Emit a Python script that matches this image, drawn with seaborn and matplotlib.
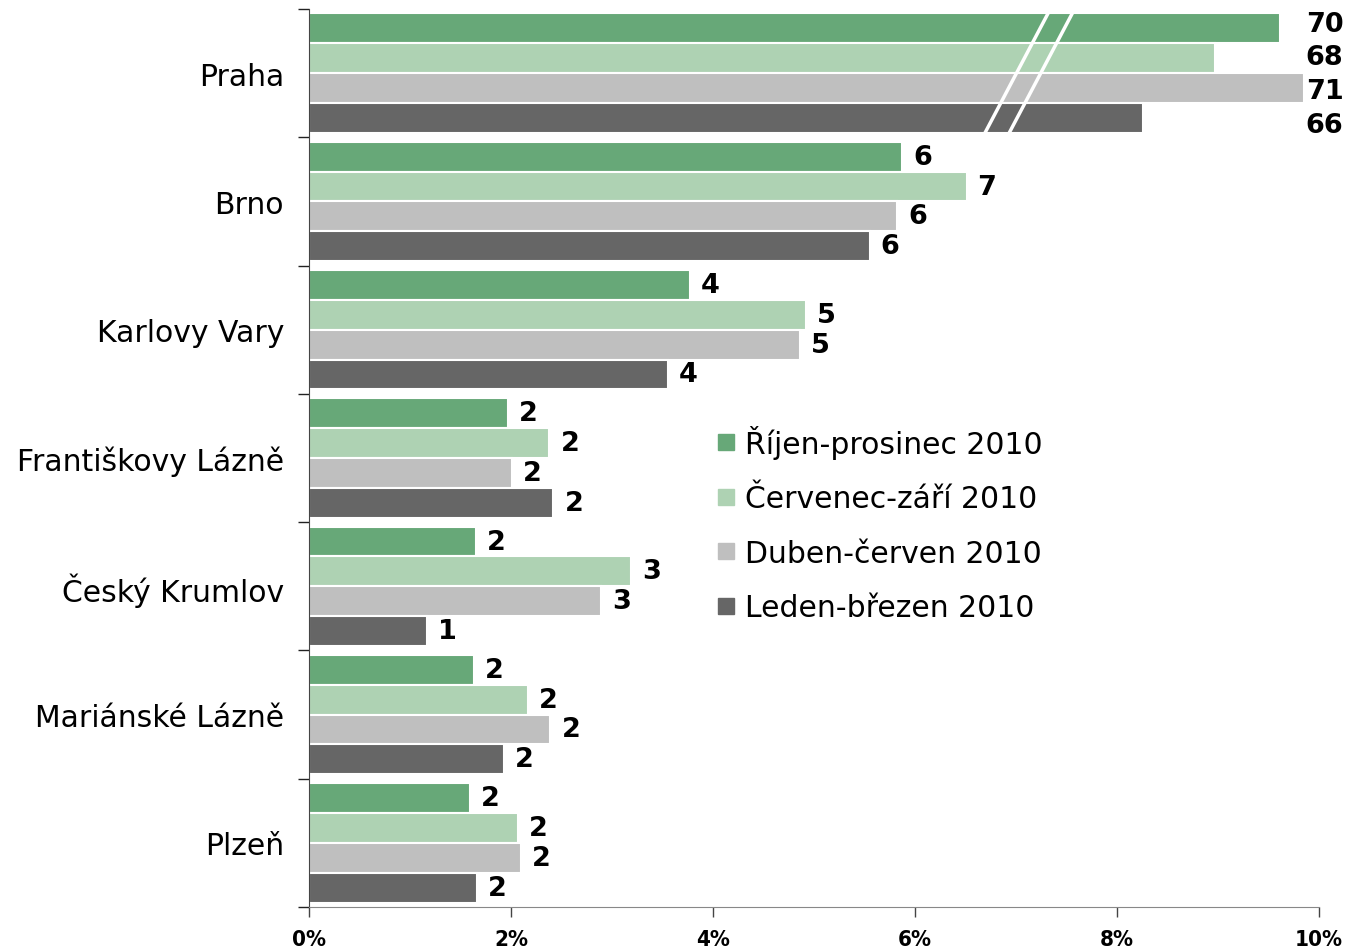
import numpy as np
import pandas as pd
import matplotlib
matplotlib.use('Agg')
import matplotlib.pyplot as plt
from matplotlib.lines import Line2D
import seaborn as sns

# data (bar lengths as drawn, in % ; Praha is shown on a broken axis)
mesta = ['Praha', 'Brno', 'Karlovy Vary', 'Františkovy Lázně',
         'Český Krumlov', 'Mariánské Lázně', 'Plzeň']
obdobi = ['Říjen-prosinec 2010', 'Červenec-září 2010',
          'Duben-červen 2010', 'Leden-březen 2010']

rijen_prosinec = [9.61, 5.87, 3.77, 1.97, 1.65, 1.63, 1.59]
cervenec_zari = [8.97, 6.51, 4.92, 2.38, 3.19, 2.17, 2.07]
duben_cerven = [9.85, 5.82, 4.86, 2.01, 2.89, 2.39, 2.10]
leden_brezen = [8.26, 5.55, 3.55, 2.42, 1.17, 1.93, 1.66]

# printed labels (rounded shares, Praha real values above the break)
lab_rijen = [70, 6, 4, 2, 2, 2, 2]
lab_cervenec = [68, 7, 5, 2, 3, 2, 2]
lab_duben = [71, 6, 5, 2, 3, 2, 2]
lab_leden = [66, 6, 4, 2, 1, 2, 2]

barvy = ['#67a878', '#aed2b3', '#bfbfbf', '#666666']

df = pd.DataFrame({
    'mesto': mesta * 4,
    'obdobi': np.repeat(obdobi, len(mesta)),
    'podil': rijen_prosinec + cervenec_zari + duben_cerven + leden_brezen,
})
popisky = [lab_rijen, lab_cervenec, lab_duben, lab_leden]

sns.set_style('white')
plt.rcParams['font.family'] = ['DejaVu Sans']
plt.rcParams['text.color'] = 'black'
plt.rcParams['xtick.color'] = 'black'
plt.rcParams['ytick.color'] = 'black'

fig = plt.figure(figsize=(13.51, 9.53), dpi=100)
ax = fig.add_axes([309 / 1351, 1 - 908 / 953, 1010 / 1351, 898 / 953])

sns.barplot(data=df, x='podil', y='mesto', hue='obdobi', order=mesta,
            hue_order=obdobi, palette=barvy, width=0.93, orient='h',
            edgecolor='white', linewidth=1.5, saturation=1, legend=False, ax=ax)

ax.set_xlim(0, 10)
ax.set_ylim(len(mesta) - 0.5, -0.5)
ax.set_xlabel('')
ax.set_ylabel('')

# value labels
for i, cont in enumerate(ax.containers):
    for j, bar in enumerate(cont):
        yc = bar.get_y() + bar.get_height() / 2
        if j == 0:
            ax.text(9.87, yc + (i - 1.2) * 0.03, str(popisky[i][j]), ha='left',
                    va='center', fontsize=19.5, fontweight='bold', color='black')
        else:
            ax.annotate(str(popisky[i][j]), (bar.get_width(), yc),
                        xytext=(8, 0), textcoords='offset points', ha='left',
                        va='center', fontsize=19.5, fontweight='bold', color='black')

# axis break marks over the Praha group
for x0 in [7.34, 7.58]:
    ax.plot([x0, x0 - 0.65], [-0.5, 0.47], color='white', lw=2.5,
            solid_capstyle='butt', zorder=5)

# axes styling
ax.set_xticks(np.arange(0, 11, 2))
ax.set_xticklabels([f'{v}%' for v in range(0, 11, 2)], fontsize=16,
                   fontweight='bold', fontstretch='condensed')
ax.tick_params(axis='x', direction='out', length=7, width=1, color='#444444',
               pad=9, bottom=True)
ax.set_yticks(range(len(mesta)))
ax.set_yticklabels(mesta, fontsize=21.5)
ax.tick_params(axis='y', which='major', length=0, pad=18)
ax.set_yticks(np.arange(-0.5, len(mesta), 1), minor=True)
ax.tick_params(axis='y', which='minor', direction='out', length=8, width=1,
               color='#222222', left=True)
for s in ['top', 'right']:
    ax.spines[s].set_visible(False)
ax.spines['left'].set_color('#444444')
ax.spines['bottom'].set_color('#888888')

# legend
handles = [Line2D([0], [0], marker='s', linestyle='', markersize=12,
                  markerfacecolor=c, markeredgecolor=c) for c in barvy]
fig.legend(handles, obdobi, loc='upper left', bbox_to_anchor=(705 / 1351, 1 - 414 / 953),
           frameon=False, fontsize=21.5, handlelength=0.6, handletextpad=0.35,
           labelspacing=0.85, borderaxespad=0)

fig.savefig('out.png', dpi=100)
